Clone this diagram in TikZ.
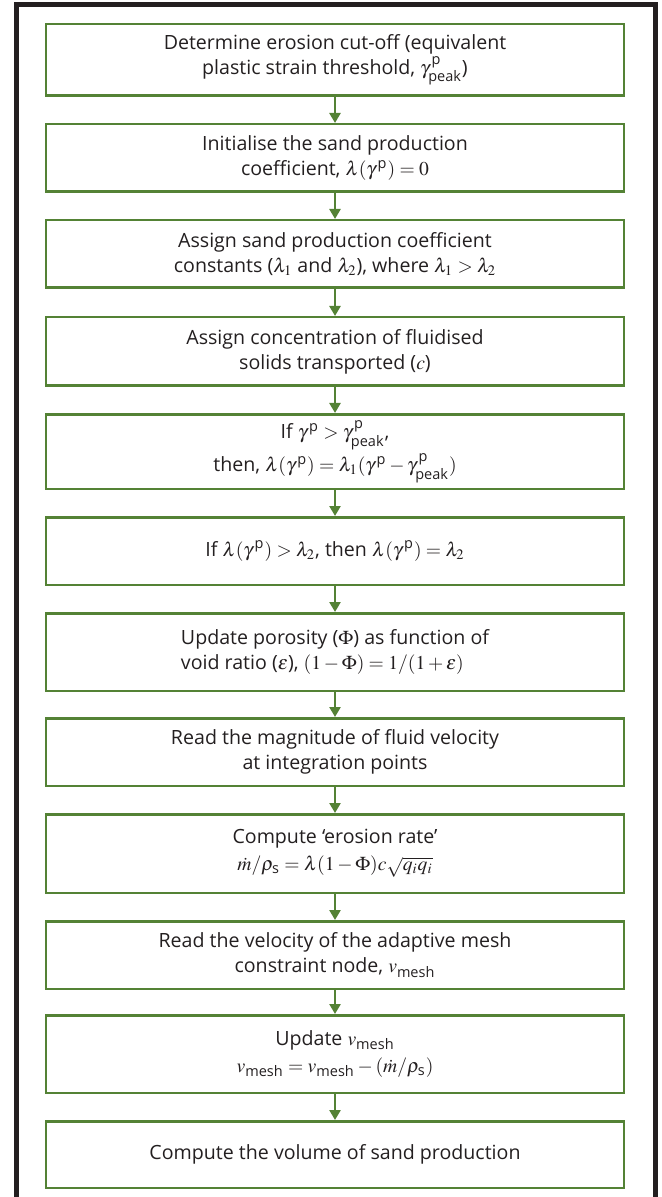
\documentclass[tikz,border=0pt]{standalone}
\usepackage{amsmath}
\usepackage{mathptmx}
\usepackage{fontspec}
\setmainfont{Open Sans}
\usetikzlibrary{arrows.meta}
\definecolor{flowgreen}{RGB}{84,130,53}
\definecolor{inkgrey}{RGB}{35,31,32}
\newcommand{\gp}{\gamma^{\mkern2mu\text{p}}}
\newcommand{\gpk}{\gamma^{\mkern2mu\text{p}}_{\text{peak}}}
\newcommand{\vmesh}{v_{\text{mesh}}}
\newcommand{\mrate}{\dot{m}/\rho_{\text{s}}}

\begin{document}
\begin{tikzpicture}[x=0.5pt,y=-0.5pt,
  stage/.style={draw=flowgreen,line width=1.25pt,minimum width=289pt,
    inner sep=0pt,align=center,text=inkgrey,
    font=\fontsize{9.8}{12.5}\selectfont},
  flow/.style={draw=flowgreen,line width=1.25pt,-{Triangle[width=5.5pt,length=5pt]}}]
\useasboundingbox (0,0) rectangle (661,1197);
% outer frame, open at the bottom
\draw[inkgrey,line width=2.5pt] (16.5,1210) -- (16.5,4.5) -- (655.5,4.5) -- (655.5,1210);

\node[stage,minimum height=35.75pt] (cutoff) at (335,60)
  {Determine erosion cut-off (equivalent\\plastic strain threshold, $\gpk$)};
\node[stage,minimum height=33.75pt] (init) at (335,158)
  {Initialise the sand production\\coefficient, $\lambda(\gp) = 0$};
\node[stage,minimum height=33.75pt] (coeff) at (335,254)
  {Assign sand production coefficient\\constants ($\lambda_1$ and $\lambda_2$), where $\lambda_1 > \lambda_2$};
\node[stage,minimum height=34.25pt] (conc) at (335,351.5)
  {Assign concentration of fluidised\\solids transported ($c$)};
\node[stage,minimum height=37.25pt] (yield) at (335,451.5)
  {If $\gp > \gpk$,\\[1pt]then, $\lambda(\gp) = \lambda_1(\gp - \gpk)$};
\node[stage,minimum height=33.75pt] (limit) at (335,551)
  {If $\lambda(\gp) > \lambda_2$, then $\lambda(\gp) = \lambda_2$};
\node[stage,minimum height=38.75pt,align=left] (poro) at (335,652)
  {Update porosity ($\Phi$) as function of\\void ratio ($\varepsilon$), $(1 - \Phi) = 1/(1 + \varepsilon)$};
\node[stage,minimum height=33.75pt] (fluid) at (335,752)
  {Read the magnitude of fluid velocity\\at integration points};
\node[stage,minimum height=39.25pt] (erosion) at (335,853.5)
  {Compute ‘erosion rate’\\[1pt]$\mrate = \lambda(1 - \Phi)c\sqrt{q_iq_i}$};
\node[stage,minimum height=33.75pt] (meshvel) at (335,955)
  {Read the velocity of the adaptive mesh\\constraint node, $\vmesh$};
\node[stage,minimum height=38.75pt] (update) at (335,1054)
  {Update $\vmesh$\\[1pt]$\vmesh = \vmesh - (\mrate)$};
\node[stage,minimum height=33.25pt] (volume) at (335,1154.5)
  {Compute the volume of sand production};

\foreach \a/\b in {cutoff/init,init/coeff,coeff/conc,conc/yield,yield/limit,limit/poro,
  poro/fluid,fluid/erosion,erosion/meshvel,meshvel/update,update/volume}
  \draw[flow] (\a) -- (\b);
\end{tikzpicture}
\end{document}
